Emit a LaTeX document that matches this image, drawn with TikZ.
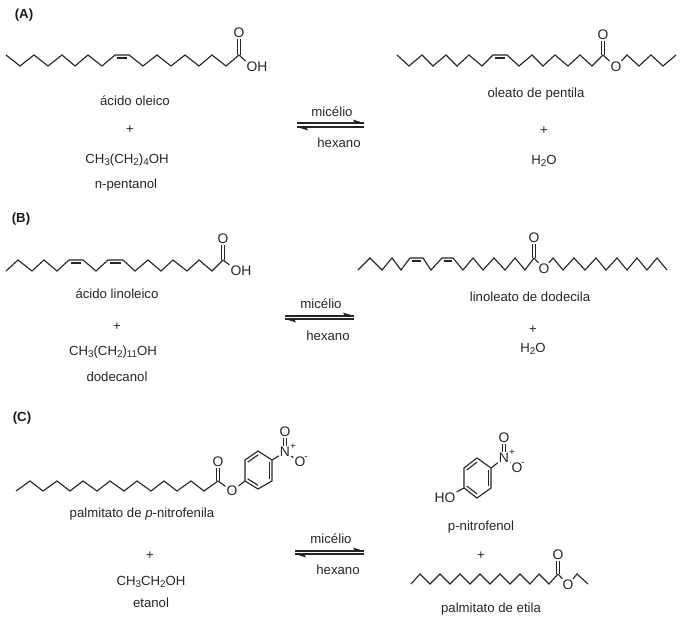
\documentclass[tikz,border=0pt]{standalone}
\usepackage{fontspec}
\setmainfont{Liberation Sans}
\usetikzlibrary{calc}
\newcommand{\sbt}[1]{\raisebox{-0.35ex}{\fontsize{7.4}{8}\selectfont #1}}
\tikzset{
  bond/.style={line width=0.85pt,black!85,line join=miter},
  txt/.style={inner sep=0pt,yshift=-1.3pt,text height=7.2pt,text depth=1.8pt,font=\fontsize{9.9}{11}\selectfont,text=black!85},
  atom/.style={inner sep=0.7pt,font=\fontsize{10.4}{11}\selectfont,text=black!85},
  panel/.style={inner sep=0pt,yshift=-0.7pt,font=\fontsize{9.9}{11}\selectfont\bfseries,text=black!90},
  chg/.style={inner sep=0pt,font=\fontsize{7.5}{8}\selectfont,text=black!85},
  harrow/.style={fill=black!88,draw=none}
}
% two parallel lines between two named points (vertical double bond)
\newcommand{\vdbl}[2]{%
  \draw[bond] ([xshift=-1.2pt]#1) -- ([xshift=-1.2pt]#2);
  \draw[bond] ([xshift=1.2pt]#1) -- ([xshift=1.2pt]#2);}
% equilibrium arrows: left x, right x, upper y, lower y, name
\newcommand{\eqarrow}[5]{%
  \coordinate (#5tl) at (#1,#3); \coordinate (#5tr) at (#2,#3);
  \coordinate (#5bl) at (#1,#4); \coordinate (#5br) at (#2,#4);
  \draw[bond] (#5tl) -- (#5tr);
  \draw[bond] (#5bl) -- (#5br);
  \fill[harrow] (#5tr) -- ++(-11,-3.4) -- ++(2,3.4) -- cycle;
  \fill[harrow] (#5bl) -- ++(11,3.4) -- ++(-2,-3.4) -- cycle;}
\begin{document}
\begin{tikzpicture}[x=0.75pt,y=-0.75pt]
\useasboundingbox (0,0) rectangle (683,619);

%% ---------- (A) ----------
\node[panel] (labA) at (24,14) {(A)};
\coordinate (cA1) at (239,55);
\node[atom] (oA1) at (239,33) {O};
\node[atom] (ohA1) at (257,67) {OH};
\draw[bond] (6,55) -- (20,66) -- (34,55) -- (48,66) -- (62,55) -- (75,66) -- (88,55) -- (102,66)
  -- (115,55) -- (129,55) -- (143,66) -- (157,55) -- (171,66) -- (185,55) -- (199,66) -- (212,55) -- (226,66) -- (cA1);
\draw[bond] (117,58) -- (127,58);
\vdbl{cA1}{oA1.south}
\draw[bond] (cA1) -- (ohA1.north west);
\node[txt] (nA1) at (135,100) {ácido oleico};
\node[txt] (nA2) at (130,128) {+};
\node[txt] (nA3) at (127,158) {CH\sbt{3}(CH\sbt{2})\sbt{4}OH};
\node[txt] (nA4) at (126,183) {n-pentanol};

\node[txt] (micA) at (332,111) {micélio};
\node[txt] (hexA) at (339,142) {hexano};
\eqarrow{297}{364}{123}{127}{arA}

\coordinate (cA2) at (603,55);
\node[atom] (oA2) at (603,35) {O};
\node[atom] (oA3) at (616,67) {O};
\draw[bond] (397,55) -- (409,66) -- (422,55) -- (433,66) -- (446,55) -- (457,66) -- (469,55) -- (482,66)
  -- (493,55) -- (507,55) -- (519,66) -- (532,55) -- (543,66) -- (555,55) -- (568,66) -- (580,55) -- (592,66) -- (cA2);
\draw[bond] (495,58) -- (505,58);
\vdbl{cA2}{oA2.south}
\draw[bond] (cA2) -- (oA3);
\draw[bond] (oA3) -- (627,55) -- (639,66) -- (651,55) -- (663,66) -- (676,55);
\node[txt] (nA5) at (536,92) {oleato de pentila};
\node[txt] (nA6) at (544,129) {+};
\node[txt] (nA7) at (544,159) {H\sbt{2}O};

%% ---------- (B) ----------
\node[panel] (labB) at (21,218) {(B)};
\coordinate (cB1) at (223,260);
\node[atom] (oB1) at (223,239) {O};
\node[atom] (ohB1) at (241,271) {OH};
\draw[bond] (6,271) -- (18,260) -- (32,271) -- (44,260) -- (57,271) -- (69,260) -- (83,260) -- (96,271)
  -- (108,260) -- (123,260) -- (135,271) -- (148,260) -- (161,271) -- (173,260) -- (187,271) -- (199,260) -- (212,271) -- (cB1);
\draw[bond] (71,263) -- (81,263);
\draw[bond] (110,263) -- (121,263);
\vdbl{cB1}{oB1.south}
\draw[bond] (cB1) -- (ohB1.north west);
\node[txt] (nB1) at (117,293) {ácido linoleico};
\node[txt] (nB2) at (117,325) {+};
\node[txt] (nB3) at (113,350) {CH\sbt{3}(CH\sbt{2})\sbt{11}OH};
\node[txt] (nB4) at (117,376) {dodecanol};

\node[txt] (micB) at (321,303) {micélio};
\node[txt] (hexB) at (328,335) {hexano};
\eqarrow{285}{354}{316}{319}{arB}

\coordinate (cB2) at (534,258);
\node[atom] (oB2) at (534,238) {O};
\node[atom] (oB3) at (544,269) {O};
\draw[bond] (358,270) -- (370,258) -- (382,270) -- (392,258) -- (401,270) -- (410,258) -- (423,258) -- (431,270)
  -- (442,258) -- (453,258) -- (463,270) -- (473,258) -- (483,270) -- (494,258) -- (505,270) -- (515,258) -- (525,270) -- (cB2);
\draw[bond] (412,261) -- (421,261);
\draw[bond] (444,261) -- (452,261);
\vdbl{cB2}{oB2.south}
\draw[bond] (cB2) -- (oB3);
\draw[bond] (oB3) -- (553,258) -- (563,270) -- (574,258) -- (585,270) -- (596,258) -- (606,270) -- (617,258) -- (627,270) -- (637,258) -- (647,270) -- (657,258) -- (667,270);
\node[txt] (nB5) at (530,296) {linoleato de dodecila};
\node[txt] (nB6) at (533,328) {+};
\node[txt] (nB7) at (533,347) {H\sbt{2}O};

%% ---------- (C) ----------
\node[panel] (labC) at (22,417) {(C)};
\coordinate (cC1) at (218,481);
\node[atom] (oC1) at (218,462) {O};
\node[atom] (oC2) at (232,491) {O};
\coordinate (rA1) at (245,481); \coordinate (rA2) at (245,460); \coordinate (rA3) at (258,451);
\coordinate (rA4) at (272,460); \coordinate (rA5) at (272,481); \coordinate (rA6) at (258,489);
\coordinate (rAc) at (258.5,470.5);
\node[atom] (nC1) at (285,452) {N};
\node[atom] (oC3) at (285,432) {O};
\node[atom] (oC4) at (300,462) {O};
\node[chg] (pC1) at (293,447) {+};
\node[chg] (mC1) at (306,458) {-};
\draw[bond] (16,491) -- (30,481) -- (43,491) -- (57,481) -- (70,491) -- (83,481) -- (97,491) -- (110,481)
  -- (124,491) -- (137,481) -- (151,491) -- (164,481) -- (177,491) -- (191,481) -- (204,491) -- (cC1);
\vdbl{cC1}{oC1.south}
\draw[bond] (cC1) -- (oC2);
\draw[bond] (oC2) -- (rA1);
\draw[bond] (rA1) -- (rA2) -- (rA3) -- (rA4) -- (rA5) -- (rA6) -- cycle;
\draw[bond] ($(rA2)!.2!(rAc)$) -- ($(rA3)!.2!(rAc)$);
\draw[bond] ($(rA4)!.2!(rAc)$) -- ($(rA5)!.2!(rAc)$);
\draw[bond] ($(rA6)!.2!(rAc)$) -- ($(rA1)!.2!(rAc)$);
\draw[bond] (rA4) -- (nC1);
\vdbl{nC1.north}{oC3.south}
\draw[bond] (nC1) -- (oC4);
\node[txt] (nC2) at (142,512) {palmitato de \textit{p}-nitrofenila};
\node[txt] (nC3) at (150,554) {+};
\node[txt] (nC4) at (151,580) {CH\sbt{3}CH\sbt{2}OH};
\node[txt] (nC5) at (151,602) {etanol};

\node[txt] (micC) at (331,538) {micélio};
\node[txt] (hexC) at (338,569) {hexano};
\eqarrow{295}{364}{551}{554}{arC}

\coordinate (rB1) at (491,468); \coordinate (rB2) at (477,458); \coordinate (rB3) at (464,468);
\coordinate (rB4) at (464,488); \coordinate (rB5) at (477,498); \coordinate (rB6) at (491,488);
\coordinate (rBc) at (477.5,478);
\node[atom] (nC6) at (504,458) {N};
\node[atom] (oC5) at (504,438) {O};
\node[atom] (oC6) at (517,468) {O};
\node[chg] (pC2) at (512,453) {+};
\node[chg] (mC2) at (523,464) {-};
\node[atom] (hoC) at (445,498) {HO};
\draw[bond] (rB1) -- (rB2) -- (rB3) -- (rB4) -- (rB5) -- (rB6) -- cycle;
\draw[bond] ($(rB2)!.2!(rBc)$) -- ($(rB3)!.2!(rBc)$);
\draw[bond] ($(rB4)!.2!(rBc)$) -- ($(rB5)!.2!(rBc)$);
\draw[bond] ($(rB6)!.2!(rBc)$) -- ($(rB1)!.2!(rBc)$);
\draw[bond] (rB1) -- (nC6);
\vdbl{nC6.north}{oC5.south}
\draw[bond] (nC6) -- (oC6);
\draw[bond] (rB4) -- (hoC.north east);
\node[txt] (nC7) at (481,525) {p-nitrofenol};
\node[txt] (nC8) at (481,554) {+};

\coordinate (cC2) at (558,574);
\node[atom] (oC7) at (558,555) {O};
\node[atom] (oC8) at (568,585) {O};
\draw[bond] (411,584) -- (420,574) -- (430,584) -- (440,574) -- (450,584) -- (460,574) -- (470,584) -- (480,574)
  -- (490,584) -- (500,574) -- (510,584) -- (520,574) -- (530,584) -- (539,574) -- (549,584) -- (cC2);
\vdbl{cC2}{oC7.south}
\draw[bond] (cC2) -- (oC8);
\draw[bond] (oC8) -- (577,574) -- (588,584);
\node[txt] (nC9) at (491,607) {palmitato de etila};
\end{tikzpicture}
\end{document}
